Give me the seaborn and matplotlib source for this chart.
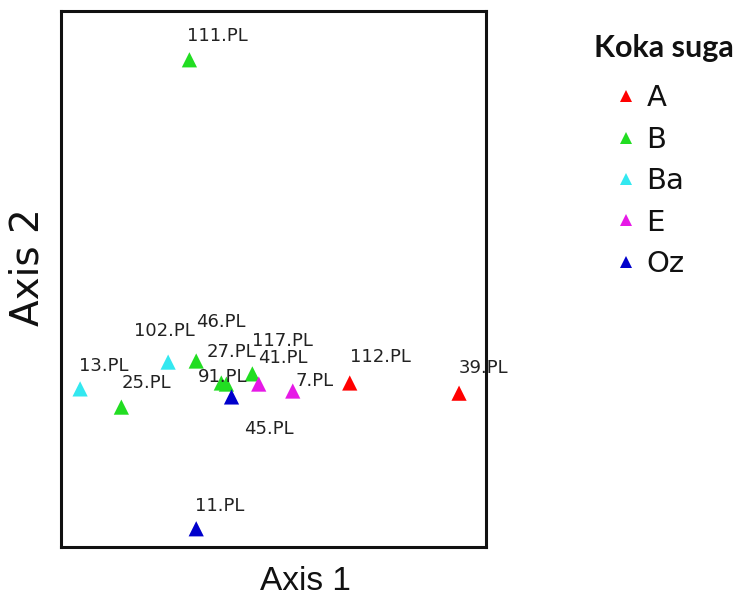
import matplotlib
matplotlib.use("Agg")
import matplotlib.pyplot as plt
import seaborn as sns
import pandas as pd

sns.set_theme(style="white")
plt.rcParams["font.family"] = ["Liberation Sans", "DejaVu Sans"]

# ordination scores (arbitrary units, 0-100)
sites  = ["111.PL", "13.PL", "25.PL", "102.PL", "46.PL", "27.PL", "91.PL",
          "117.PL", "41.PL", "7.PL", "112.PL", "39.PL", "45.PL", "11.PL"]
groups = ["B", "Ba", "B", "Ba", "B", "B", "B",
          "B", "E", "E", "A", "A", "Oz", "Oz"]
axis1  = [30.2, 4.5, 14.2, 25.2, 31.8, 37.7, 38.9, 45.0, 46.5, 54.5, 67.9, 93.6, 40.1, 31.8]
axis2  = [90.9, 29.5, 26.1, 34.5, 34.7, 30.6, 30.4, 32.3, 30.4, 29.1, 30.6, 28.7, 28.0, 3.4]
group_order = ["A", "B", "Ba", "E", "Oz"]

palette = {"A": "#ff0000", "B": "#22dd22", "Ba": "#33e8f0", "E": "#e619e6", "Oz": "#0000cc"}

# label offsets in pixels (dx, dy) so labels sit where they do in the original
label_offsets = {
    "111.PL": (-2, 24), "13.PL": (-1, 23), "25.PL": (0, 24), "102.PL": (-34, 31),
    "46.PL": (0, 39), "27.PL": (-15, 31), "91.PL": (-29, 7), "117.PL": (0, 33),
    "41.PL": (-1, 26), "7.PL": (3, 10), "112.PL": (0, 26), "39.PL": (0, 25),
    "45.PL": (13, -32), "11.PL": (-1, 23),
}

df = pd.DataFrame({"site": sites, "group": groups, "axis1": axis1, "axis2": axis2})

fig = plt.figure(figsize=(7.39, 5.99), dpi=100)
ax = fig.add_axes([0.0825, 0.0868, 0.5755, 0.8948])

sns.scatterplot(data=df, x="axis1", y="axis2", hue="group", hue_order=group_order,
                palette=palette, marker="^", s=120, linewidth=0, ax=ax)

for _, r in df.iterrows():
    dx, dy = label_offsets[r["site"]]
    ax.annotate(r["site"], (r["axis1"], r["axis2"]), xytext=(dx, dy),
                textcoords="offset pixels", ha="left", va="center",
                fontsize=13, color="#222222", family="DejaVu Sans")

ax.set_xlim(0, 100)
ax.set_ylim(0, 100)
ax.set_xticks([])
ax.set_yticks([])
ax.set_xlabel("Axis 1", fontsize=24, color="#111111")
ax.set_ylabel("Axis 2", fontsize=28, color="#111111", family="DejaVu Sans")
ax.xaxis.set_label_coords(0.574, -0.035)
ax.yaxis.set_label_coords(-0.035, 0.522)
for sp in ax.spines.values():
    sp.set_visible(True)
    sp.set_color("#111111")
    sp.set_linewidth(2.2)

sns.move_legend(ax, "upper left", bbox_to_anchor=(1.27, 0.885), frameon=False,
                title=None, markerscale=0.85, labelspacing=0.46,
                handletextpad=0.25, handlelength=0.9, borderaxespad=0,
                prop={"family": "DejaVu Sans", "size": 21})
for t in ax.get_legend().get_texts():
    t.set_color("#111111")

fig.text(0.899, 0.92, "Koka suga", ha="center", va="center", fontsize=22,
         fontweight="bold", family=["Lato", "DejaVu Sans"], color="#111111")

fig.savefig("out.png", dpi=100)
